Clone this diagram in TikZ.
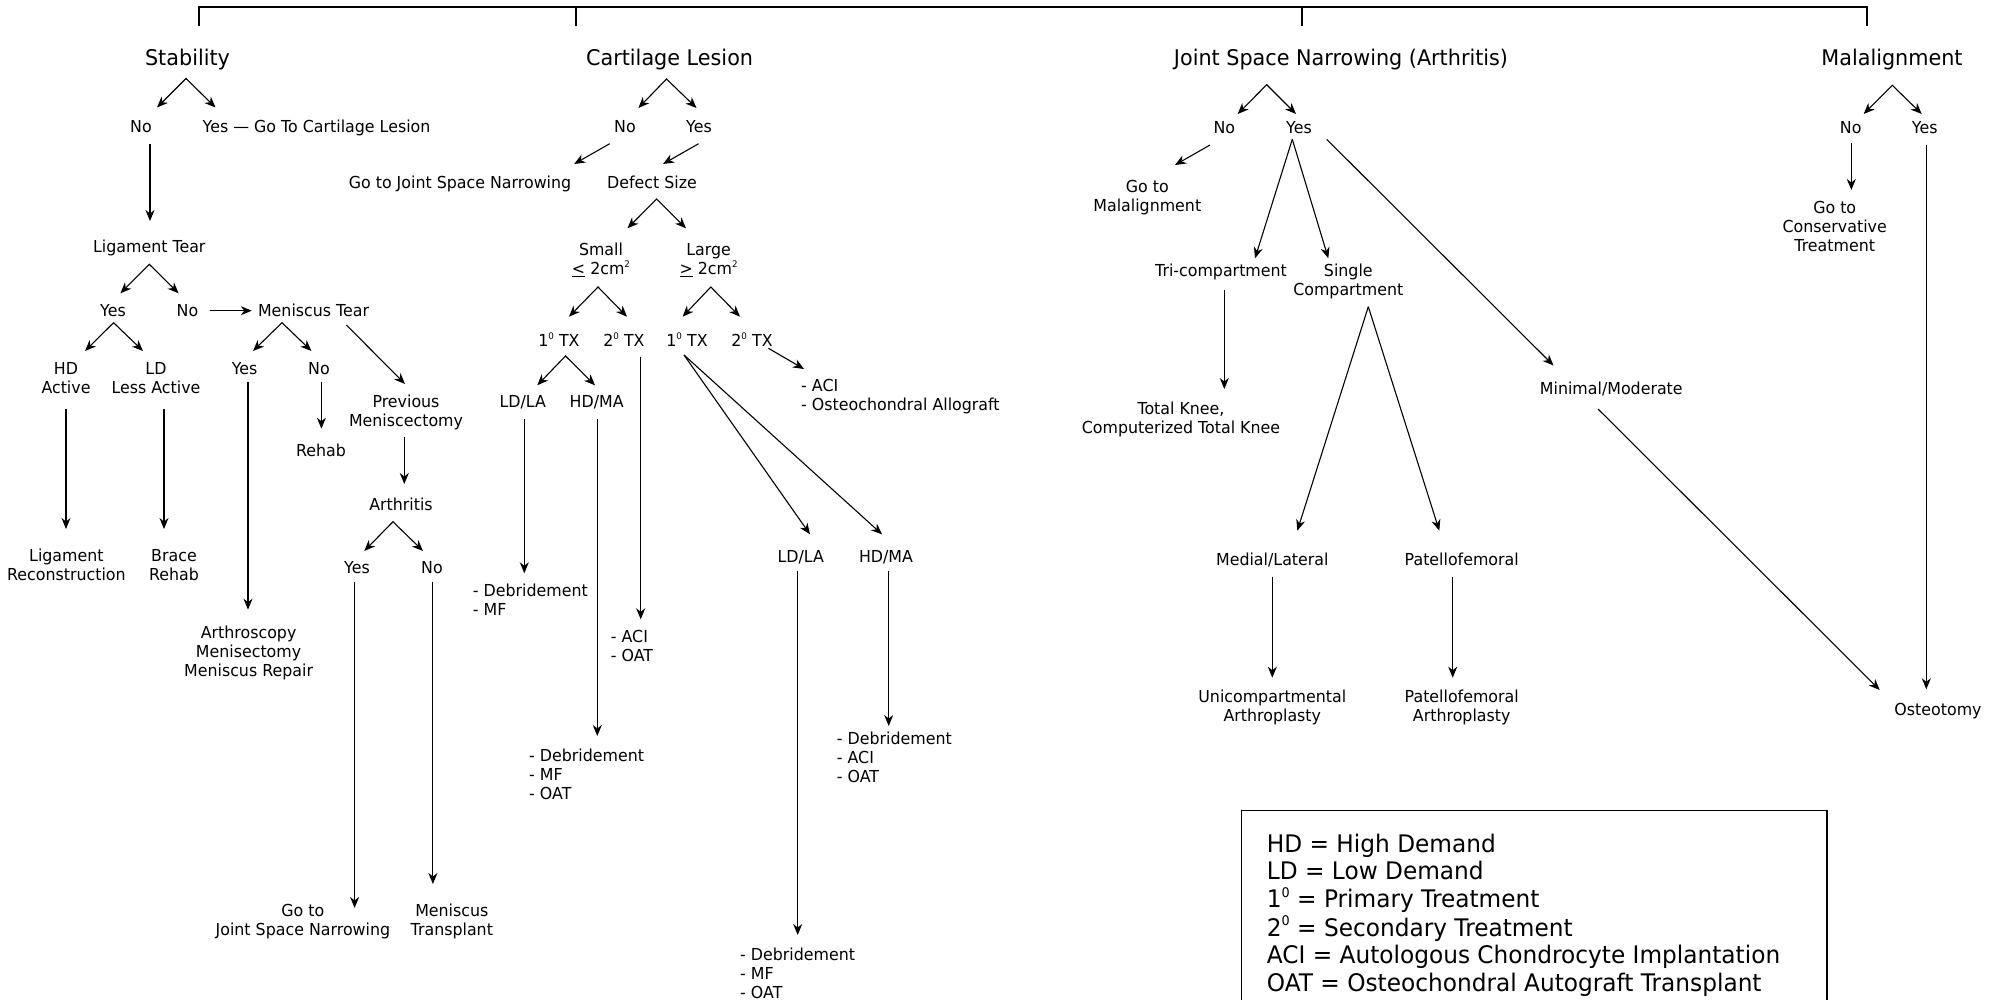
\documentclass[tikz,border=0pt]{standalone}
\usepackage{fontspec}
\setmainfont{DejaVu Sans}[FakeStretch=0.96]
\usetikzlibrary{arrows.meta}
\newcommand\bodyfont{\fontsize{16.5}{19}\selectfont}
\newcommand\titlefont{\fontsize{21.6}{26}\selectfont}
\newcommand\legfont{\fontsize{24.2}{27.5}\selectfont}
\newcommand\mlc[1]{\begin{tabular}[t]{@{}c@{}}#1\end{tabular}}
\newcommand\mll[1]{\begin{tabular}[t]{@{}l@{}}#1\end{tabular}}
\newcommand\smallsup[1]{\raisebox{0.42em}{\scalebox{0.55}{#1}}}
\newcommand\ordsup[1]{#1\smallsup{0}}
\newcommand\arw[3]{\coordinate (#1a) at (#2); \coordinate (#1b) at (#3); \draw[conn] (#1a) -- (#1b);}
\newcommand\fork[4]{\coordinate (#1) at (#2); \coordinate (#1L) at (#3); \coordinate (#1R) at (#4); \draw[conn2] (#1L) -- (#1) -- (#1R);}
\tikzset{
  txt/.style={inner sep=0pt, anchor=base, font=\bodyfont},
  lst/.style={inner sep=0pt, anchor=base west, font=\bodyfont},
  ttl/.style={inner sep=0pt, anchor=base, font=\titlefont},
  conn/.style={line width=1.1pt, -{Stealth[length=11pt,width=9pt,inset=3.5pt]}},
  conn2/.style={line width=1.1pt, {Stealth[length=11pt,width=9pt,inset=3.5pt]}-{Stealth[length=11pt,width=9pt,inset=3.5pt]}},
  brk/.style={line width=2pt}
}
\begin{document}
\begin{tikzpicture}[x=1pt,y=-1pt]
\fill[white] (0,0) rectangle (2003,1000);
\useasboundingbox (0,0) rectangle (2003,1000);

% top bracket
\coordinate (b1) at (198.6,26); \coordinate (b1t) at (198.6,7);
\coordinate (b2) at (576.3,26); \coordinate (b2t) at (576.3,7);
\coordinate (b3) at (1302.3,26); \coordinate (b3t) at (1302.3,7);
\coordinate (b4) at (1867.3,26); \coordinate (b4t) at (1867.3,7);
\draw[brk] (b1) -- (b1t) -- (b4t) -- (b4);
\draw[brk] (b2t) -- (b2);
\draw[brk] (b3t) -- (b3);

% titles
\node[ttl] (stab) at (187.5,65.3) {Stability};
\node[ttl] (cart) at (669.6,65.3) {Cartilage Lesion};
\node[ttl] (jsn) at (1341,65.3) {Joint Space Narrowing (Arthritis)};
\node[ttl] (mal) at (1892,65.3) {Malalignment};

% ---------- Stability ----------
\fork{fS}{186,78.5}{157,107.5}{215.5,107.5}
\node[txt] (stabNo) at (141,132.7) {No};
\node[lst] (stabYes) at (202.5,132.7) {Yes — Go To Cartilage Lesion};
\arw{a1}{150,144}{150,221}
\node[txt] (ligT) at (149.3,252.7) {Ligament Tear};
\fork{fL}{149.3,264.3}{120.4,293.3}{178.6,293.3}
\node[txt] (ligYes) at (113,316.7) {Yes};
\node[txt] (ligNo) at (187.5,316.7) {No};
\arw{a2}{209.6,310.7}{251.8,310.7}
\node[txt] (menT) at (313.6,316.7) {Meniscus Tear};
\fork{fY}{113.6,322.7}{85,351}{143,351}
\node[txt] (hd) at (66,374.3) {\mlc{HD\\Active}};
\node[txt] (ld) at (156,374.3) {\mlc{LD\\Less Active}};
\fork{fM}{282,322.7}{253,351}{311.4,351}
\node[txt] (menYes) at (244.6,374.3) {Yes};
\node[txt] (menNo) at (319,374.3) {No};
\arw{a3}{346.4,325}{405,384}
\node[txt] (prevM) at (406,407.7) {\mlc{Previous\\Meniscectomy}};
\arw{a4}{66,409}{66,529}
\arw{a5}{164,409}{164,529}
\node[txt] (ligRec) at (66.4,561) {\mlc{Ligament\\Reconstruction}};
\node[txt] (brace) at (174,561) {\mlc{Brace\\Rehab}};
\arw{a6}{248,381.7}{248,609.7}
\node[txt] (arthro) at (248.6,638) {\mlc{Arthroscopy\\Menisectomy\\Meniscus Repair}};
\arw{a7}{321.4,381.7}{321.4,428.7}
\node[txt] (rehab) at (321,456.5) {Rehab};
\arw{a8}{404.3,437}{404.3,484}
\node[txt] (arthr) at (401,510) {Arthritis};
\fork{fA}{393,521.7}{364.3,551}{423,551}
\node[txt] (arYes) at (357,573) {Yes};
\node[txt] (arNo) at (432,573) {No};
\arw{a9}{354.6,581.8}{354.6,908}
\arw{a10}{432.9,581.8}{432.9,884}
\node[txt] (goJSN) at (302.9,916) {\mlc{Go to\\Joint Space Narrowing}};
\node[txt] (menTr) at (451.8,916) {\mlc{Meniscus\\Transplant}};

% ---------- Cartilage ----------
\fork{fC}{666.5,79}{638.4,108}{696.5,108}
\node[txt] (cNo) at (625,132.7) {No};
\node[txt] (cYes) at (699,132.7) {Yes};
\arw{c1}{609.7,143.7}{574.2,164}
\arw{c2}{698.6,143.7}{663,164}
\node[txt] (cGo) at (460,189) {Go to Joint Space Narrowing};
\node[txt] (defect) at (652,189) {Defect Size};
\fork{fD}{656.6,199}{627.5,228.3}{686,228.3}
\node[txt] (small) at (601,255.3) {\mlc{Small\\\underline{<} 2cm\smallsup{2}}};
\node[txt] (large) at (708.6,255.3) {\mlc{Large\\\underline{>} 2cm\smallsup{2}}};
\fork{fSm}{598,287}{569,316.7}{627,316.7}
\fork{fLg}{710.8,287}{682.6,316.7}{740,316.7}
\node[txt] (s1) at (559,346) {\ordsup{1} TX};
\node[txt] (s2) at (624,346) {\ordsup{2} TX};
\node[txt] (l1) at (687,346) {\ordsup{1} TX};
\node[txt] (l2) at (752,346) {\ordsup{2} TX};
\fork{fS1}{565.5,356}{537.3,385.3}{595,385.3}
\node[txt] (sLD) at (522.7,407.7) {LD/LA};
\node[txt] (sHD) at (596.7,407.7) {HD/MA};
\arw{c3}{640.7,356.7}{640.7,619.3}
\node[lst] (s2txt) at (610.7,642.7) {\mll{- ACI\\- OAT}};
\coordinate (l1o) at (684,355);
\coordinate (l1L) at (810,534.3);
\coordinate (l1R) at (882,534.3);
\draw[conn] (l1o) -- (l1L);
\draw[conn] (l1o) -- (l1R);
\arw{c4}{768.4,348.3}{804,369}
\node[lst] (l2txt) at (801,391) {\mll{- ACI\\- Osteochondral Allograft}};
\arw{c5}{524.3,419}{524.3,573.3}
\node[lst] (sLDtxt) at (472.7,596.7) {\mll{- Debridement\\- MF}};
\arw{c6}{597.3,419}{597.3,736}
\node[lst] (sHDtxt) at (529,761.7) {\mll{- Debridement\\- MF\\- OAT}};
\node[txt] (lLD) at (800.7,562.7) {LD/LA};
\node[txt] (lHD) at (886,562.7) {HD/MA};
\arw{c7}{797.7,570.7}{797.7,935}
\arw{c8}{888.7,570.7}{888.7,726}
\node[lst] (lHDtxt) at (836.7,744.3) {\mll{- Debridement\\- ACI\\- OAT}};
\node[lst] (lLDtxt) at (740,960) {\mll{- Debridement\\- MF\\- OAT}};

% ---------- Joint Space Narrowing ----------
\fork{fJ}{1266.7,84.7}{1237.7,114}{1296,114}
\node[txt] (jNo) at (1224.3,133.3) {No};
\node[txt] (jYes) at (1299,133.3) {Yes};
\arw{j1}{1210,145}{1175,165}
\node[txt] (goMal) at (1147.3,192.7) {\mlc{Go to\\Malalignment}};
\coordinate (jy) at (1292.3,139.3);
\coordinate (triT) at (1255,258.3);
\coordinate (sinT) at (1328.3,258.3);
\draw[conn] (jy) -- (triT);
\draw[conn] (jy) -- (sinT);
\arw{j2}{1326.7,139.3}{1553.5,365.5}
\node[txt] (tri) at (1221,276.7) {Tri-compartment};
\node[txt] (single) at (1348.3,276.7) {\mlc{Single\\Compartment}};
\arw{j3}{1224.3,290}{1224.3,389}
\node[txt] (tk) at (1181,414.3) {\mlc{Total Knee,\\Computerized Total Knee}};
\coordinate (sg) at (1368.3,306.7);
\coordinate (medT) at (1297.3,530.7);
\coordinate (patT) at (1439.3,530.7);
\draw[conn] (sg) -- (medT);
\draw[conn] (sg) -- (patT);
\node[txt] (medl) at (1272.3,565) {Medial/Lateral};
\node[txt] (pat) at (1461.7,565) {Patellofemoral};
\arw{j4}{1272.3,576.7}{1272.3,677.7}
\arw{j5}{1452.7,576.7}{1452.7,677.7}
\node[txt] (uni) at (1272.3,702.7) {\mlc{Unicompartmental\\Arthroplasty}};
\node[txt] (patA) at (1461.7,702.7) {\mlc{Patellofemoral\\Arthroplasty}};
\node[txt] (minmod) at (1611.3,394.3) {Minimal/Moderate};
\arw{j6}{1598,409}{1879.7,690}

% ---------- Malalignment ----------
\fork{fMa}{1892.3,85.3}{1863.7,114}{1921.7,114}
\node[txt] (mNo) at (1850.7,133.3) {No};
\node[txt] (mYes) at (1924.7,133.3) {Yes};
\arw{m1}{1851.3,143.3}{1851.3,190}
\node[txt] (goCons) at (1834.7,213.7) {\mlc{Go to\\Conservative\\Treatment}};
\arw{m2}{1926.3,144.7}{1926.3,689.3}
\node[txt] (osteo) at (1938,715) {Osteotomy};

% ---------- Legend ----------
\coordinate (g1) at (1241.7,1004);
\coordinate (g2) at (1241.7,810.7);
\coordinate (g3) at (1827,810.7);
\coordinate (g4) at (1827,1004);
\draw[line width=1.5pt] (g1) -- (g2) -- (g3) -- (g4);
\node[inner sep=0pt, anchor=base west, font=\legfont] (legend) at (1266.7,852)
  {\mll{HD = High Demand\\LD = Low Demand\\\ordsup{1} = Primary Treatment\\\ordsup{2} = Secondary Treatment\\ACI = Autologous Chondrocyte Implantation\\OAT = Osteochondral Autograft Transplant}};
\end{tikzpicture}
\end{document}
